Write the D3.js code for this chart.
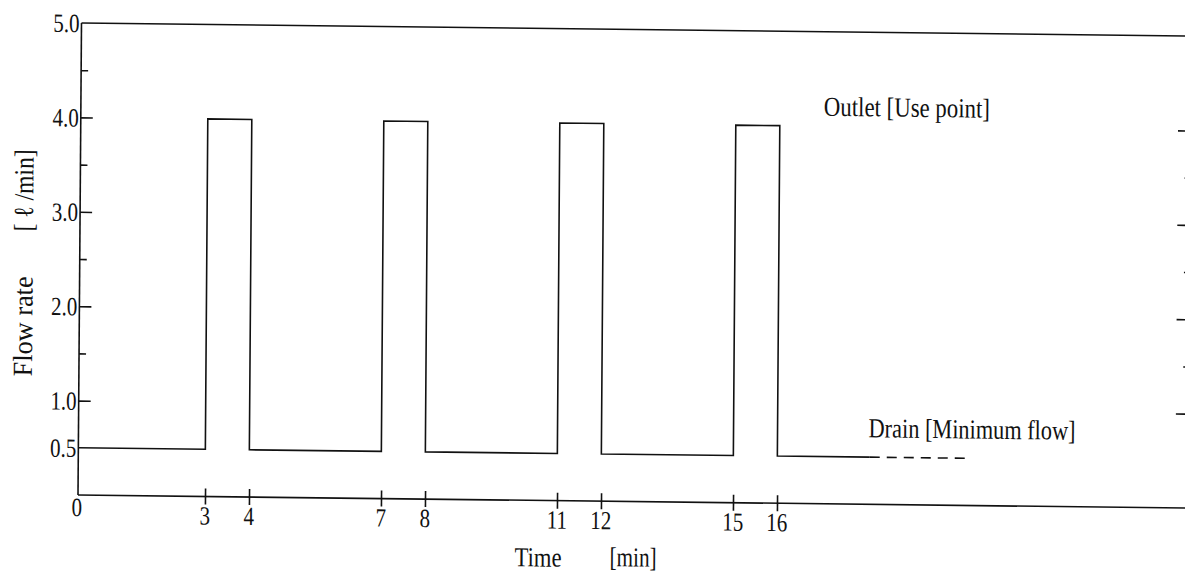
<!DOCTYPE html>
<html>
<head>
<meta charset="utf-8">
<script src="https://cdn.jsdelivr.net/npm/d3@7"></script>
<style>
  body { margin: 0; background: #fff; }
  svg text { font-family: "Liberation Serif", "Times New Roman", serif; fill: #111; }
  .axis path, .axis line { stroke: #111; stroke-width: 1.6; }
</style>
</head>
<body>
<div id="chart"></div>
<script>
// Flow profile (step after each time point)
const times = [0, 3, 4, 7, 8, 11, 12, 15, 16, 18.1];
const flows = [0.5, 4.0, 0.5, 4.0, 0.5, 4.0, 0.5, 4.0, 0.5, 0.5];
// dashed continuation of the drain flow
const tailTimes = [18.1, 20.4];
const tailFlows = [0.5, 0.5];

// ticks and labels
const xTicks = [3, 4, 7, 8, 11, 12, 15, 16];
const xLabels = ["0", "3", "4", "7", "8", "11", "12", "15", "16"];
const xLabelPos = [0, 3, 4, 7, 8, 11, 12, 15, 16];
const yMajor = [1, 2, 3, 4];
const yMinor = [1.5, 2.5, 3.5, 4.5];
const yLabelPos = [0.5, 1, 2, 3, 4, 5];
const yLabels = ["0.5", "1.0", "2.0", "3.0", "4.0", "5.0"];

const width = 1185, height = 574;
const tEnd = 25.3; // frame runs past the right edge of the scan

// the scan is not quite linear between 0 and 3
const x = d3.scaleLinear().domain([0, 3, 16]).range([78, 205, 777]);
const y = d3.scaleLinear().domain([0, 5]).range([495, 23]);

const svg = d3.select("#chart")
  .append("svg")
  .attr("width", width)
  .attr("height", height);

// the scanned figure is slightly skewed
const shx = -0.0074, shy = 0.0118;
const g = svg.append("g")
  .attr("transform", `matrix(1,${shy},${shx},1,${-shx * 495},${-shy * 78})`);

// left axis, ticks point inward
g.append("g")
  .attr("class", "axis")
  .attr("transform", `translate(${x(0)},0)`)
  .call(d3.axisRight(y).tickValues(yMajor).tickSize(12).tickSizeOuter(0).tickFormat(""))
  .call(a => a.select(".domain").remove());
g.append("g")
  .attr("class", "axis")
  .attr("transform", `translate(${x(0)},0)`)
  .call(d3.axisRight(y).tickValues(yMinor).tickSize(7).tickSizeOuter(0).tickFormat(""))
  .call(a => a.select(".domain").remove());

// right axis ticks (axis line itself is outside the picture)
g.append("g")
  .attr("class", "axis")
  .attr("transform", `translate(${x(tEnd)},0)`)
  .call(d3.axisLeft(y).tickValues(yMajor).tickSize(11).tickFormat(""))
  .call(a => a.select(".domain").remove());
g.append("g")
  .attr("class", "axis")
  .attr("transform", `translate(${x(tEnd)},0)`)
  .call(d3.axisLeft(y).tickValues(yMinor).tickSize(4).tickFormat(""))
  .call(a => a.select(".domain").remove());

// frame lines
const frame = g.append("g").attr("fill", "none").attr("stroke", "#111").attr("stroke-width", 1.6);
frame.append("line").attr("x1", x(0)).attr("x2", x(0)).attr("y1", y(0)).attr("y2", y(5));
frame.append("line").attr("x1", x(0)).attr("x2", x(tEnd) + 2).attr("y1", y(5)).attr("y2", y(5));
frame.append("line").attr("x1", x(0)).attr("x2", x(tEnd) + 2).attr("y1", y(0)).attr("y2", y(0));

// x ticks cross the axis
g.append("g")
  .attr("class", "axis")
  .attr("transform", `translate(0,${y(0)})`)
  .call(d3.axisBottom(x).tickValues(xTicks).tickSize(8).tickFormat(""))
  .call(a => a.select(".domain").remove())
  .call(a => a.selectAll(".tick line").attr("y1", -8));

// tick labels
g.append("g")
  .selectAll("text")
  .data(xLabelPos)
  .enter()
  .append("text")
  .attr("transform", d => `translate(${x(d) - (d === 0 ? 1 : 0)},${y(0) + (d === 0 ? 21 : 28)}) scale(1,1.25)`)
  .attr("text-anchor", "middle")
  .attr("font-size", 21)
  .text((d, i) => xLabels[i]);

g.append("g")
  .selectAll("text")
  .data(yLabelPos)
  .enter()
  .append("text")
  .attr("transform", d => `translate(${x(0) - 2},${y(d)}) scale(1,1.25)`)
  .attr("dy", "0.35em")
  .attr("text-anchor", "end")
  .attr("font-size", 21)
  .text((d, i) => yLabels[i]);

// flow line
const line = d3.line()
  .x(d => x(d[0]))
  .y(d => y(d[1]))
  .curve(d3.curveStepAfter);

g.append("path")
  .datum(times.map((t, i) => [t, flows[i]]))
  .attr("fill", "none")
  .attr("stroke", "#111")
  .attr("stroke-width", 1.6)
  .attr("d", line);

g.append("path")
  .datum(tailTimes.map((t, i) => [t, tailFlows[i]]))
  .attr("fill", "none")
  .attr("stroke", "#111")
  .attr("stroke-width", 1.6)
  .attr("stroke-dasharray", "10,7")
  .attr("d", d3.line().x(d => x(d[0])).y(d => y(d[1])));

// annotations
function label(px, py, txt, len, rot) {
  g.append("text")
    .attr("transform", `translate(${px},${py})${rot ? " rotate(-90)" : ""} scale(1,1.25)`)
    .attr("font-size", 22)
    .attr("text-anchor", rot ? "middle" : "start")
    .attr("textLength", len)
    .attr("lengthAdjust", "spacingAndGlyphs")
    .text(txt);
}

label(821, 107, "Outlet [Use point]", 166);
label(868, 428, "Drain [Minimum flow]", 207);
label(515, 561, "Time", 47);
label(610, 560, "[min]", 47);
label(31, 327, "Flow rate", 100, true);
label(31, 191, "[ \u2113 /min]", 82, true);
</script>
</body>
</html>
